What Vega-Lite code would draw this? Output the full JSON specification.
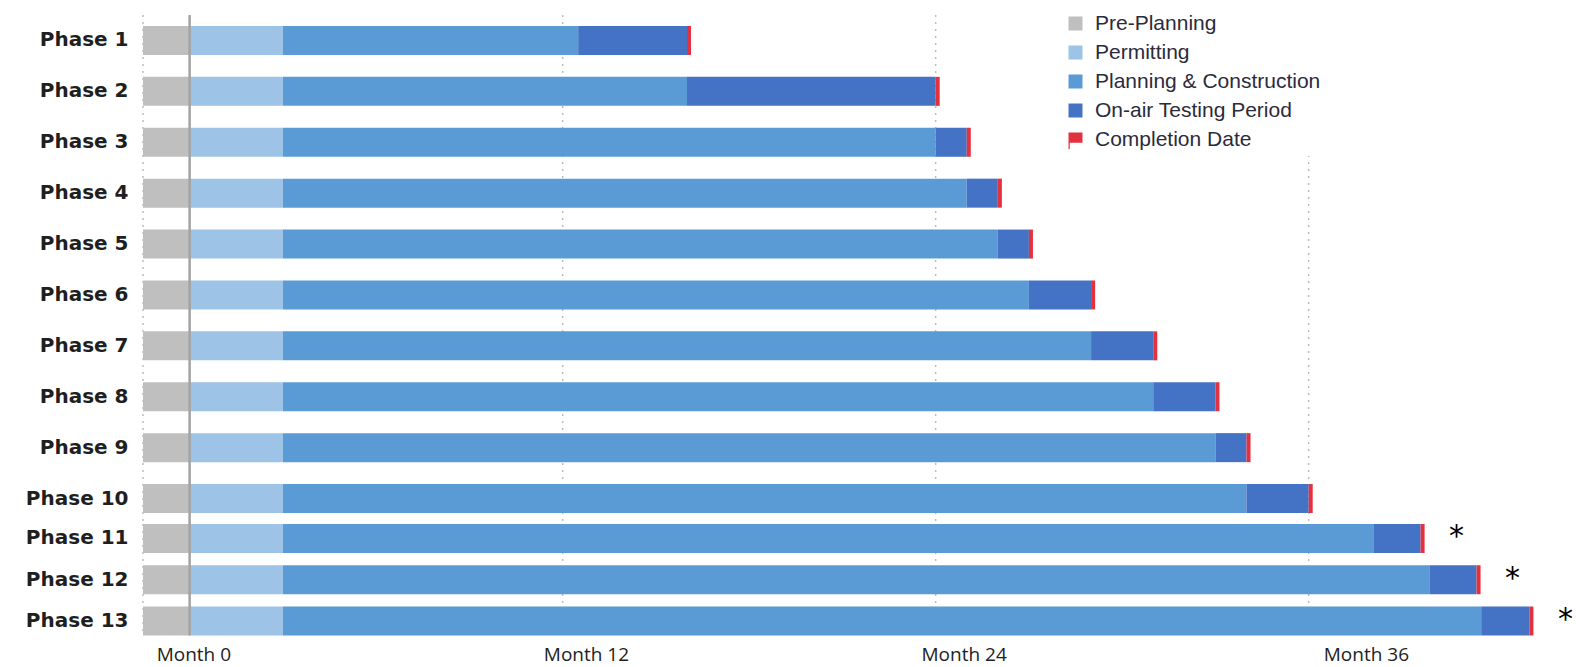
{
  "$schema": "https://vega.github.io/schema/vega-lite/v6.json",
  "padding": {"left": 25, "top": 7, "right": 0, "bottom": 0},
  "background": "white",
  "spacing": 0,
  "bounds": "flush",
  "config": {
    "view": {"stroke": null},
    "axisY": {"labelFont": "DejaVu Sans", "labelFontWeight": "bold", "labelFontSize": 20, "labelColor": "#1f1f1f", "labelPadding": 15, "ticks": false, "tickSize": 0, "domain": false, "title": null, "grid": false}
  },
  "resolve": {"scale": {"color": "independent", "x": "independent", "y": "independent"}, "legend": {"color": "independent"}},
  "datasets": {
    "grid": [{"month": -1.5}, {"month": 12}, {"month": 24}, {"month": 36}],
    "zero": [{"month": 0}],
    "seg": [
      {"phase": "Phase 1", "stage": "Pre-Planning", "start": -1.5, "end": 0},
      {"phase": "Phase 1", "stage": "Permitting", "start": 0, "end": 3},
      {"phase": "Phase 1", "stage": "Planning & Construction", "start": 3, "end": 12.5},
      {"phase": "Phase 1", "stage": "On-air Testing Period", "start": 12.5, "end": 16},
      {"phase": "Phase 1", "stage": "Completion Date", "start": 16, "end": 16.13},
      {"phase": "Phase 2", "stage": "Pre-Planning", "start": -1.5, "end": 0},
      {"phase": "Phase 2", "stage": "Permitting", "start": 0, "end": 3},
      {"phase": "Phase 2", "stage": "Planning & Construction", "start": 3, "end": 16},
      {"phase": "Phase 2", "stage": "On-air Testing Period", "start": 16, "end": 24},
      {"phase": "Phase 2", "stage": "Completion Date", "start": 24, "end": 24.13},
      {"phase": "Phase 3", "stage": "Pre-Planning", "start": -1.5, "end": 0},
      {"phase": "Phase 3", "stage": "Permitting", "start": 0, "end": 3},
      {"phase": "Phase 3", "stage": "Planning & Construction", "start": 3, "end": 24},
      {"phase": "Phase 3", "stage": "On-air Testing Period", "start": 24, "end": 25},
      {"phase": "Phase 3", "stage": "Completion Date", "start": 25, "end": 25.13},
      {"phase": "Phase 4", "stage": "Pre-Planning", "start": -1.5, "end": 0},
      {"phase": "Phase 4", "stage": "Permitting", "start": 0, "end": 3},
      {"phase": "Phase 4", "stage": "Planning & Construction", "start": 3, "end": 25},
      {"phase": "Phase 4", "stage": "On-air Testing Period", "start": 25, "end": 26},
      {"phase": "Phase 4", "stage": "Completion Date", "start": 26, "end": 26.13},
      {"phase": "Phase 5", "stage": "Pre-Planning", "start": -1.5, "end": 0},
      {"phase": "Phase 5", "stage": "Permitting", "start": 0, "end": 3},
      {"phase": "Phase 5", "stage": "Planning & Construction", "start": 3, "end": 26},
      {"phase": "Phase 5", "stage": "On-air Testing Period", "start": 26, "end": 27},
      {"phase": "Phase 5", "stage": "Completion Date", "start": 27, "end": 27.13},
      {"phase": "Phase 6", "stage": "Pre-Planning", "start": -1.5, "end": 0},
      {"phase": "Phase 6", "stage": "Permitting", "start": 0, "end": 3},
      {"phase": "Phase 6", "stage": "Planning & Construction", "start": 3, "end": 27},
      {"phase": "Phase 6", "stage": "On-air Testing Period", "start": 27, "end": 29},
      {"phase": "Phase 6", "stage": "Completion Date", "start": 29, "end": 29.13},
      {"phase": "Phase 7", "stage": "Pre-Planning", "start": -1.5, "end": 0},
      {"phase": "Phase 7", "stage": "Permitting", "start": 0, "end": 3},
      {"phase": "Phase 7", "stage": "Planning & Construction", "start": 3, "end": 29},
      {"phase": "Phase 7", "stage": "On-air Testing Period", "start": 29, "end": 31},
      {"phase": "Phase 7", "stage": "Completion Date", "start": 31, "end": 31.13},
      {"phase": "Phase 8", "stage": "Pre-Planning", "start": -1.5, "end": 0},
      {"phase": "Phase 8", "stage": "Permitting", "start": 0, "end": 3},
      {"phase": "Phase 8", "stage": "Planning & Construction", "start": 3, "end": 31},
      {"phase": "Phase 8", "stage": "On-air Testing Period", "start": 31, "end": 33},
      {"phase": "Phase 8", "stage": "Completion Date", "start": 33, "end": 33.13},
      {"phase": "Phase 9", "stage": "Pre-Planning", "start": -1.5, "end": 0},
      {"phase": "Phase 9", "stage": "Permitting", "start": 0, "end": 3},
      {"phase": "Phase 9", "stage": "Planning & Construction", "start": 3, "end": 33},
      {"phase": "Phase 9", "stage": "On-air Testing Period", "start": 33, "end": 34},
      {"phase": "Phase 9", "stage": "Completion Date", "start": 34, "end": 34.13},
      {"phase": "Phase 10", "stage": "Pre-Planning", "start": -1.5, "end": 0},
      {"phase": "Phase 10", "stage": "Permitting", "start": 0, "end": 3},
      {"phase": "Phase 10", "stage": "Planning & Construction", "start": 3, "end": 34},
      {"phase": "Phase 10", "stage": "On-air Testing Period", "start": 34, "end": 36},
      {"phase": "Phase 10", "stage": "Completion Date", "start": 36, "end": 36.13},
      {"phase": "Phase 11", "stage": "Pre-Planning", "start": -1.5, "end": 0},
      {"phase": "Phase 11", "stage": "Permitting", "start": 0, "end": 3},
      {"phase": "Phase 11", "stage": "Planning & Construction", "start": 3, "end": 38.1},
      {"phase": "Phase 11", "stage": "On-air Testing Period", "start": 38.1, "end": 39.6},
      {"phase": "Phase 11", "stage": "Completion Date", "start": 39.6, "end": 39.73, "note": "*"},
      {"phase": "Phase 12", "stage": "Pre-Planning", "start": -1.5, "end": 0},
      {"phase": "Phase 12", "stage": "Permitting", "start": 0, "end": 3},
      {"phase": "Phase 12", "stage": "Planning & Construction", "start": 3, "end": 39.9},
      {"phase": "Phase 12", "stage": "On-air Testing Period", "start": 39.9, "end": 41.4},
      {"phase": "Phase 12", "stage": "Completion Date", "start": 41.4, "end": 41.53, "note": "*"},
      {"phase": "Phase 13", "stage": "Pre-Planning", "start": -1.5, "end": 0},
      {"phase": "Phase 13", "stage": "Permitting", "start": 0, "end": 3},
      {"phase": "Phase 13", "stage": "Planning & Construction", "start": 3, "end": 41.55},
      {"phase": "Phase 13", "stage": "On-air Testing Period", "start": 41.55, "end": 43.1},
      {"phase": "Phase 13", "stage": "Completion Date", "start": 43.1, "end": 43.23, "note": "*"}
    ]
  },
  "vconcat": [
    {
      "width": 1433,
      "height": 509,
      "layer": [
        {
          "data": {"name": "grid"},
          "mark": {"type": "rule", "color": "#bdbdbd", "strokeWidth": 1.5, "strokeDash": [2, 5]},
          "encoding": {"x": {"field": "month", "type": "quantitative", "scale": {"domain": [-1.5, 44.6], "nice": false, "zero": false}, "axis": null}}
        },
        {
          "data": {"name": "seg"},
          "transform": [{"filter": {"not": {"field": "phase", "oneOf": ["Phase 11", "Phase 12", "Phase 13"]}}}],
          "mark": {"type": "bar"},
          "encoding": {
            "y": {"field": "phase", "type": "nominal", "sort": ["Phase 1", "Phase 2", "Phase 3", "Phase 4", "Phase 5", "Phase 6", "Phase 7", "Phase 8", "Phase 9", "Phase 10"], "scale": {"paddingInner": 0.43, "paddingOuter": 0.215}, "axis": {"title": null}},
            "x": {"field": "start", "type": "quantitative", "scale": {"domain": [-1.5, 44.6], "nice": false, "zero": false}, "axis": null},
            "x2": {"field": "end"},
            "color": {
              "field": "stage", "type": "nominal",
              "scale": {"domain": ["Pre-Planning", "Permitting", "Planning & Construction", "On-air Testing Period", "Completion Date"], "range": ["#BFBFBF", "#9DC3E6", "#5B9BD5", "#4472C4", "#E4313F"]},
              "legend": {
                "title": null, "orient": "none", "legendX": 916, "legendY": -8,
                "symbolType": "square", "symbolSize": 196, "symbolStrokeWidth": 0,
                "labelFont": "Liberation Sans", "labelFontSize": 21, "labelColor": "#2b2b3b", "labelLimit": 400,
                "rowPadding": 7, "labelOffset": 9, "fillColor": "white", "padding": 6, "zindex": 1,
                "encode": {"symbols": {"update": {"shape": {"signal": "datum.value === 'Completion Date' ? 'M-1,-1H1V0.45H-0.82V1.35H-1Z' : 'square'"}}}}
              }
            }
          }
        },
        {
          "data": {"name": "zero"},
          "mark": {"type": "rule", "color": "#a3a3a3", "strokeWidth": 2.5},
          "encoding": {"x": {"field": "month", "type": "quantitative", "axis": null}}
        }
      ]
    },
    {
      "width": 1433,
      "height": 111.5,
      "encoding": {
        "x": {"type": "quantitative", "scale": {"domain": [-1.5, 44.6], "nice": false, "zero": false},
          "axis": {"values": [0.12, 12.75, 24.9, 37.84], "labelExpr": "'Month ' + (round(datum.value / 12) * 12)", "title": null, "ticks": false, "tickSize": 0, "domain": false, "grid": false, "labelFont": "Open Sans", "labelFontSize": 19, "labelColor": "#222222", "labelPadding": 10, "labelFlush": false, "labelOverlap": false}}
      },
      "layer": [
        {
          "data": {"name": "grid"},
          "mark": {"type": "rule", "color": "#bdbdbd", "strokeWidth": 1.5, "strokeDash": [2, 5]},
          "encoding": {"x": {"field": "month"}}
        },
        {
          "data": {"name": "seg"},
          "transform": [{"filter": {"field": "phase", "oneOf": ["Phase 11", "Phase 12", "Phase 13"]}}],
          "mark": {"type": "bar"},
          "encoding": {
            "y": {"field": "phase", "type": "nominal", "sort": ["Phase 11", "Phase 12", "Phase 13"], "scale": {"paddingInner": 0.297, "paddingOuter": 0}, "axis": {"title": null}},
            "x": {"field": "start"},
            "x2": {"field": "end"},
            "color": {
              "field": "stage", "type": "nominal",
              "scale": {"domain": ["Pre-Planning", "Permitting", "Planning & Construction", "On-air Testing Period", "Completion Date"], "range": ["#BFBFBF", "#9DC3E6", "#5B9BD5", "#4472C4", "#E4313F"]},
              "legend": null
            }
          }
        },
        {
          "data": {"name": "zero"},
          "mark": {"type": "rule", "color": "#a3a3a3", "strokeWidth": 2.5},
          "encoding": {"x": {"field": "month"}}
        },
        {
          "data": {"name": "seg"},
          "transform": [{"filter": "datum.note === '*'"}],
          "mark": {"type": "text", "font": "DejaVu Sans", "fontSize": 30, "color": "#000000", "align": "center", "baseline": "middle", "dx": 32, "dy": -1},
          "encoding": {
            "x": {"field": "end"},
            "y": {"field": "phase", "type": "nominal", "sort": ["Phase 11", "Phase 12", "Phase 13"], "axis": {"title": null}},
            "text": {"field": "note"}
          }
        }
      ]
    }
  ]
}
